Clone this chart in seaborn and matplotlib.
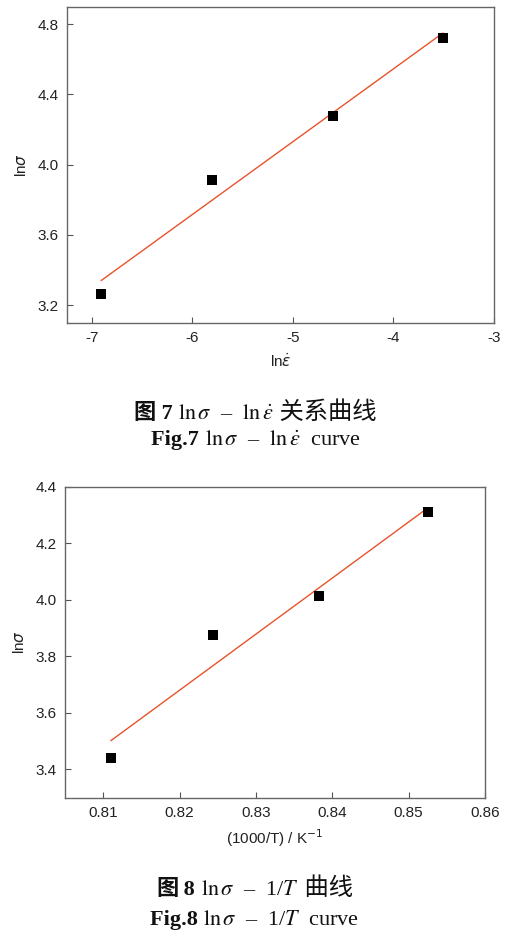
import numpy as np
import pandas as pd
import matplotlib
matplotlib.use("Agg")
import matplotlib.pyplot as plt
import seaborn as sns
from matplotlib.offsetbox import TextArea, HPacker, AnchoredOffsetbox

# 图7: ln(应变速率) - ln(应力)
ln_rate = [-6.908, -5.809, -4.605, -3.507]
ln_stress_7 = [3.266, 3.912, 4.278, 4.724]

# 图8: 1000/T - ln(应力)
inv_T = [0.8110, 0.8244, 0.8383, 0.8525]
ln_stress_8 = [3.439, 3.875, 4.012, 4.310]

x_ticks_7 = [-7, -6, -5, -4, -3]
y_ticks_7 = [3.2, 3.6, 4.0, 4.4, 4.8]
x_ticks_8 = [0.81, 0.82, 0.83, 0.84, 0.85, 0.86]
y_ticks_8 = [3.4, 3.6, 3.8, 4.0, 4.2, 4.4]

FIT_COLOR = "#E8532B"
SPINE_COLOR = "#666666"


def draw_panel(ax, x, y, xlim, ylim, xticks, yticks, xlabel, ylabel):
    df = pd.DataFrame({"x": x, "y": y})
    sns.regplot(data=df, x="x", y="y", ax=ax, ci=None, marker="s",
                scatter_kws=dict(color="black", s=42, alpha=1, linewidths=0, zorder=3),
                line_kws=dict(color=FIT_COLOR, lw=1.0, zorder=2))
    ax.set_xlim(*xlim)
    ax.set_ylim(*ylim)
    ax.set_xticks(xticks)
    ax.set_yticks(yticks)
    ax.set_xticklabels([f"{t:g}" for t in xticks])
    ax.set_yticklabels([f"{t:.1f}" for t in yticks])
    ax.set_xlabel(xlabel, fontsize=11, labelpad=5, math_fontfamily="dejavusans", color="#222222")
    ax.set_ylabel(ylabel, fontsize=11, labelpad=6, math_fontfamily="dejavusans", color="#222222")
    ax.tick_params(direction="in", length=4, width=0.8, color="#555555",
                   labelsize=11, labelcolor="#222222", pad=6)
    for sp in ax.spines.values():
        sp.set_visible(True)
        sp.set_color(SPINE_COLOR)
        sp.set_linewidth(1.0)


def caption(fig, x, y, parts):
    boxes = [TextArea(s, textprops=p) for s, p in parts]
    pack = HPacker(children=boxes, align="baseline", pad=0, sep=0)
    box = AnchoredOffsetbox(loc="center", child=pack, pad=0, borderpad=0,
                            frameon=False, bbox_to_anchor=(x, y),
                            bbox_transform=fig.transFigure)
    fig.add_artist(box)


sns.set_theme(style="ticks")
plt.rcParams["font.family"] = ["Liberation Sans", "DejaVu Sans"]

fig = plt.figure(figsize=(5.17, 9.38), dpi=100)
ax1 = fig.add_axes([0.1290, 0.6560, 0.8265, 0.3369])
ax2 = fig.add_axes([0.1257, 0.1496, 0.8124, 0.3316])

draw_panel(ax1, ln_rate, ln_stress_7, (-7.25, -3), (3.1, 4.9),
           x_ticks_7, y_ticks_7, r"ln$\dot{\varepsilon}$", r"ln$\sigma$")
draw_panel(ax2, inv_T, ln_stress_8, (0.805, 0.86), (3.3, 4.4),
           x_ticks_8, y_ticks_8, r"(1000/T) / K$^{-1}$", r"ln$\sigma$")

cjk_bold = dict(family="Noto Sans CJK SC", fontsize=16, fontweight="bold", color="#111111")
cjk = dict(family="Noto Sans CJK SC", fontsize=17.5, color="#111111")
serif_bold = dict(family="Liberation Serif", fontsize=16, fontweight="bold", color="#111111")
serif = dict(family="Liberation Serif", fontsize=16, color="#111111", math_fontfamily="stix")

m7 = r"$\mathrm{ln}\,\sigma$  –  $\mathrm{ln}\,\dot{\varepsilon}$"
m8 = r"$\mathrm{ln}\,\sigma$  –  1/$T$"

caption(fig, 0.493, 0.5611, [("图", cjk_bold), (" 7 ", serif_bold), (m7, serif), (" 关系曲线", cjk)])
caption(fig, 0.495, 0.5309, [("Fig.7 ", serif_bold), (m7 + "  curve", serif)])
caption(fig, 0.492, 0.0533, [("图", cjk_bold), (" 8 ", serif_bold), (m8, serif), (" 曲线", cjk)])
caption(fig, 0.492, 0.0192, [("Fig.8 ", serif_bold), (m8 + "  curve", serif)])

fig.savefig("out.png", dpi=100, facecolor="white")
